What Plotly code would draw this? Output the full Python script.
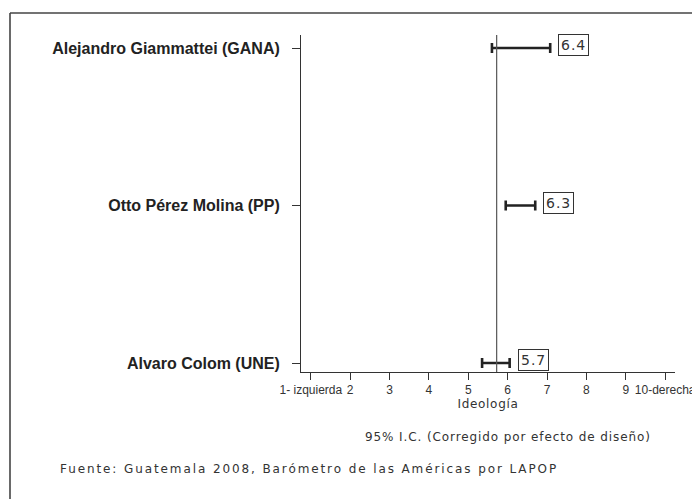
import plotly.graph_objects as go

# ---- data ----
candidates = ["Alvaro Colom (UNE)", "Otto Pérez Molina (PP)", "Alejandro Giammattei (GANA)"]
means = [5.7, 6.3, 6.4]
ci_low = [5.35, 5.95, 5.6]
ci_high = [6.05, 6.7, 7.08]
mean_label = ["5.7", "6.3", "6.4"]
overall_mean = 5.72
tick_vals = [1, 2, 3, 4, 5, 6, 7, 8, 9, 10]
tick_text = ["1- izquierda", "2", "3", "4", "5", "6", "7", "8", "9", "10-derecha"]

# ---- layout geometry (pixels) ----
W, H = 692, 499
L, R, T, B = 301, 17, 35, 127
PW = W - L - R
PH = H - T - B

def px2x(px):
    return (px - L) / PW

def py2y(py):
    return (H - B - py) / PH

ypos = [1, 2, 3]

fig = go.Figure()
fig.add_trace(go.Scatter(
    x=means, y=ypos, mode="markers",
    marker=dict(size=1, color="rgba(0,0,0,0)"),
    error_x=dict(type="data", symmetric=False,
                 array=[h - m for h, m in zip(ci_high, means)],
                 arrayminus=[m - l for m, l in zip(means, ci_low)],
                 color="#222222", thickness=2.6, width=5),
    showlegend=False, hoverinfo="skip",
))

# reference line at overall mean
fig.add_shape(type="line", xref="x", yref="paper", x0=overall_mean, x1=overall_mean,
              y0=0, y1=1, line=dict(color="#555555", width=1.2))

# value labels
for yv, hi, lab in zip(ypos, ci_high, mean_label):
    fig.add_annotation(x=hi, y=yv, xref="x", yref="y",
                       text='<span style="letter-spacing:1px">' + lab + '</span>',
                       showarrow=False,
                       xanchor="left", yanchor="middle", xshift=8, yshift=3,
                       font=dict(family="DejaVu Sans", size=14, color="#333333"),
                       bordercolor="#333333", borderwidth=1, borderpad=2,
                       bgcolor="white")

# frame lines (left and top, extending off-canvas)
fig.add_shape(type="line", xref="paper", yref="paper",
              x0=px2x(10), x1=px2x(W + 20), y0=py2y(13), y1=py2y(13),
              line=dict(color="#444444", width=1.6))
fig.add_shape(type="line", xref="paper", yref="paper",
              x0=px2x(10), x1=px2x(10), y0=py2y(13), y1=py2y(H + 20),
              line=dict(color="#444444", width=1.6))

# footnotes
fig.add_annotation(xref="paper", yref="paper", x=px2x(508), y=py2y(437),
                   text='<span style="letter-spacing:0.9px">95% I.C. (Corregido por efecto de diseño)</span>',
                   showarrow=False, xanchor="center", yanchor="middle",
                   font=dict(family="DejaVu Sans", size=12, color="#333333"))
fig.add_annotation(xref="paper", yref="paper", x=px2x(58), y=py2y(469),
                   text='<span style="letter-spacing:1.9px">Fuente: Guatemala 2008, Barómetro de las Américas por LAPOP</span>',
                   showarrow=False, xanchor="left", yanchor="middle",
                   font=dict(family="DejaVu Sans", size=12, color="#333333"))

fig.update_layout(
    width=W, height=H, autosize=False,
    margin=dict(l=L, r=R, t=T, b=B, pad=0, autoexpand=False),
    plot_bgcolor="white", paper_bgcolor="white",
    xaxis=dict(range=[0.75, 10.25], tickvals=tick_vals, ticktext=tick_text,
               showgrid=False, zeroline=False, showline=True, linecolor="#333333",
               linewidth=1, ticks="outside", ticklen=7, tickcolor="#333333",
               ticklabeloverflow="allow", automargin=False,
               tickfont=dict(family="Liberation Sans", size=12, color="#333333"),
               title=dict(text='<span style="letter-spacing:0.7px">Ideología</span>', standoff=2,
                          font=dict(family="DejaVu Sans", size=12, color="#333333"))),
    yaxis=dict(range=[0.943, 3.083], tickvals=ypos, ticktext=candidates,
               showgrid=False, zeroline=False, showline=True, linecolor="#333333",
               linewidth=1, ticks="outside", ticklen=8, tickcolor="#333333",
               ticklabelstandoff=9, automargin=False,
               tickfont=dict(family="Liberation Sans", size=16, color="#222222",
                             weight="bold")),
)

fig.write_html("out.html", config={"displayModeBar": False},
               post_script="document.body.style.margin='0';document.body.style.overflow='hidden';")
